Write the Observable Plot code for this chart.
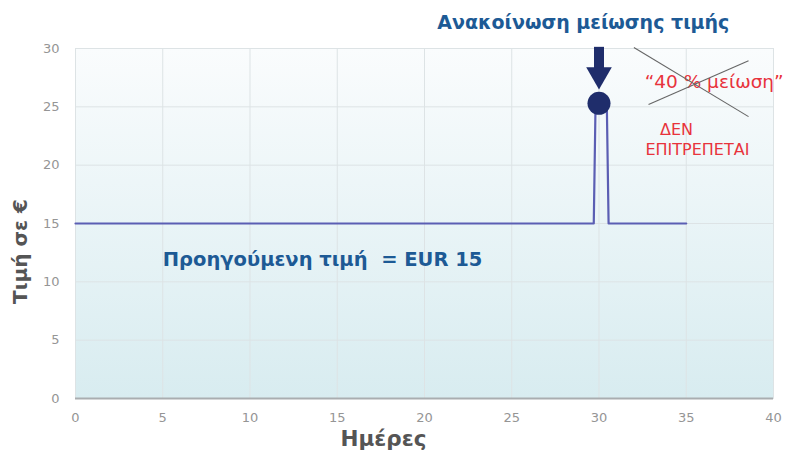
<!DOCTYPE html>
<html><head><meta charset="utf-8">
<script src="https://cdn.jsdelivr.net/npm/d3@7"></script>
<script src="https://cdn.jsdelivr.net/npm/@observablehq/plot@0.6"></script>
<style>body{margin:0;background:#fff;font-family:"DejaVu Sans",sans-serif;}</style>
</head><body><div id="chart"></div>
<script>
// Price path (day, price in €)
const days   = [0, 29.7, 29.8, 30.45, 30.55, 35];
const prices = [15, 15, 25, 25, 15, 15];
const xTicks = [0, 5, 10, 15, 20, 25, 30, 35, 40];
const yTicks = [0, 5, 10, 15, 20, 25, 30];
const announceDay = [30];
const announcePrice = [25.3];
const titleLabel = ["Ανακοίνωση μείωσης τιμής"];
const titleAt = [29.1];
const prevLabel = ["Προηγούμενη τιμή  = EUR 15"];
const prevLabelAt = [5, 11.9];
const reductionLabel = ["\u201C40 % μείωση\u201D"];
const reductionLabelAt = [36.6, 27.1];
const forbiddenLabels = ["ΔΕΝ", "ΕΠΙΤΡΕΠΕΤΑΙ"];
const forbiddenX = [34.44, 35.64];
const forbiddenY = [23.0, 21.34];
const crossX1 = [32.0, 32.84];
const crossY1 = [30.08, 25.19];
const crossX2 = [38.57, 38.57];
const crossY2 = [24.16, 28.96];
const xLabel = "Ημέρες";
const xLabelAt = [17.65];
const yLabel = "Τιμή σε €";
const yLabelAt = [12.6];

const series = days.map((d, i) => ({day: d, price: prices[i]}));
const cross = crossX1.map((x, i) => ({x1: x, y1: crossY1[i], x2: crossX2[i], y2: crossY2[i]}));
const forbidden = forbiddenLabels.map((t, i) => ({t, x: forbiddenX[i], y: forbiddenY[i]}));

const navy = "#1f2d6b";
const blue = "#1d5a95";
const red = "#e8333c";

const chart = Plot.plot({
  width: 795,
  height: 457,
  marginLeft: 75,
  marginRight: 22,
  marginTop: 48,
  marginBottom: 59,
  style: {fontFamily: "'DejaVu Sans', sans-serif", background: "transparent", overflow: "visible"},
  x: {domain: [0, 40], ticks: xTicks},
  y: {domain: [0, 30], ticks: yTicks},
  marks: [
    Plot.frame({fill: "url(#bgGrad)", stroke: "#e1e6e8"}),
    Plot.gridX(xTicks, {stroke: "#dde3e5", strokeOpacity: 1, strokeWidth: 1}),
    Plot.gridY(yTicks, {stroke: "#dde3e5", strokeOpacity: 1, strokeWidth: 1}),
    Plot.ruleY([0], {stroke: "#a9adb0", strokeWidth: 2}),
    Plot.axisX(xTicks, {tickSize: 0, tickPadding: 14, fill: "#959595", fontSize: 13, label: null}),
    Plot.axisY(yTicks, {tickSize: 0, tickPadding: 16, fill: "#959595", fontSize: 13, label: null}),
    Plot.line(series, {x: "day", y: "price", stroke: "#5b5eb3", strokeWidth: 2.2}),
    Plot.ruleX(announceDay, {x: d => d, y1: 30.1, y2: 27.9, stroke: navy, strokeWidth: 10}),
    Plot.dot(announceDay, {x: d => d, y: 27.75, symbol: "triangle", rotate: 180, r: 9.5, fill: navy, stroke: "none"}),
    Plot.dot(announceDay, {x: d => d, y: announcePrice[0], r: 11.5, fill: navy, stroke: "none"}),
    Plot.text(titleLabel, {x: titleAt[0], y: 30, dy: -26, fill: blue, fontSize: 19, fontWeight: "bold", text: d => d}),
    Plot.text(prevLabel, {x: prevLabelAt[0], y: prevLabelAt[1], textAnchor: "start", fill: blue, fontSize: 19.5, fontWeight: "bold", text: d => d}),
    Plot.text(reductionLabel, {x: reductionLabelAt[0], y: reductionLabelAt[1], fill: red, fontSize: 18.5, text: d => d}),
    Plot.link(cross, {x1: "x1", y1: "y1", x2: "x2", y2: "y2", stroke: "#666", strokeWidth: 1.1}),
    Plot.text(forbidden, {x: "x", y: "y", text: "t", fill: red, fontSize: 16}),
    Plot.text([xLabel], {x: xLabelAt[0], frameAnchor: "bottom", dy: 47, fill: "#555", fontSize: 21.5, fontWeight: "bold", text: d => d}),
    Plot.text([yLabel], {x: 0, y: yLabelAt[0], dx: -55, rotate: -90, fill: "#555", fontSize: 20, fontWeight: "bold", text: d => d})
  ]
});

const defs = d3.select(chart).insert("defs", ":first-child");
const g = defs.append("linearGradient").attr("id", "bgGrad").attr("x1", 0).attr("y1", 0).attr("x2", 0).attr("y2", 1);
g.append("stop").attr("offset", "0%").attr("stop-color", "#fafcfd");
g.append("stop").attr("offset", "100%").attr("stop-color", "#d8ecf0");

document.getElementById("chart").append(chart);
</script>
</body></html>
